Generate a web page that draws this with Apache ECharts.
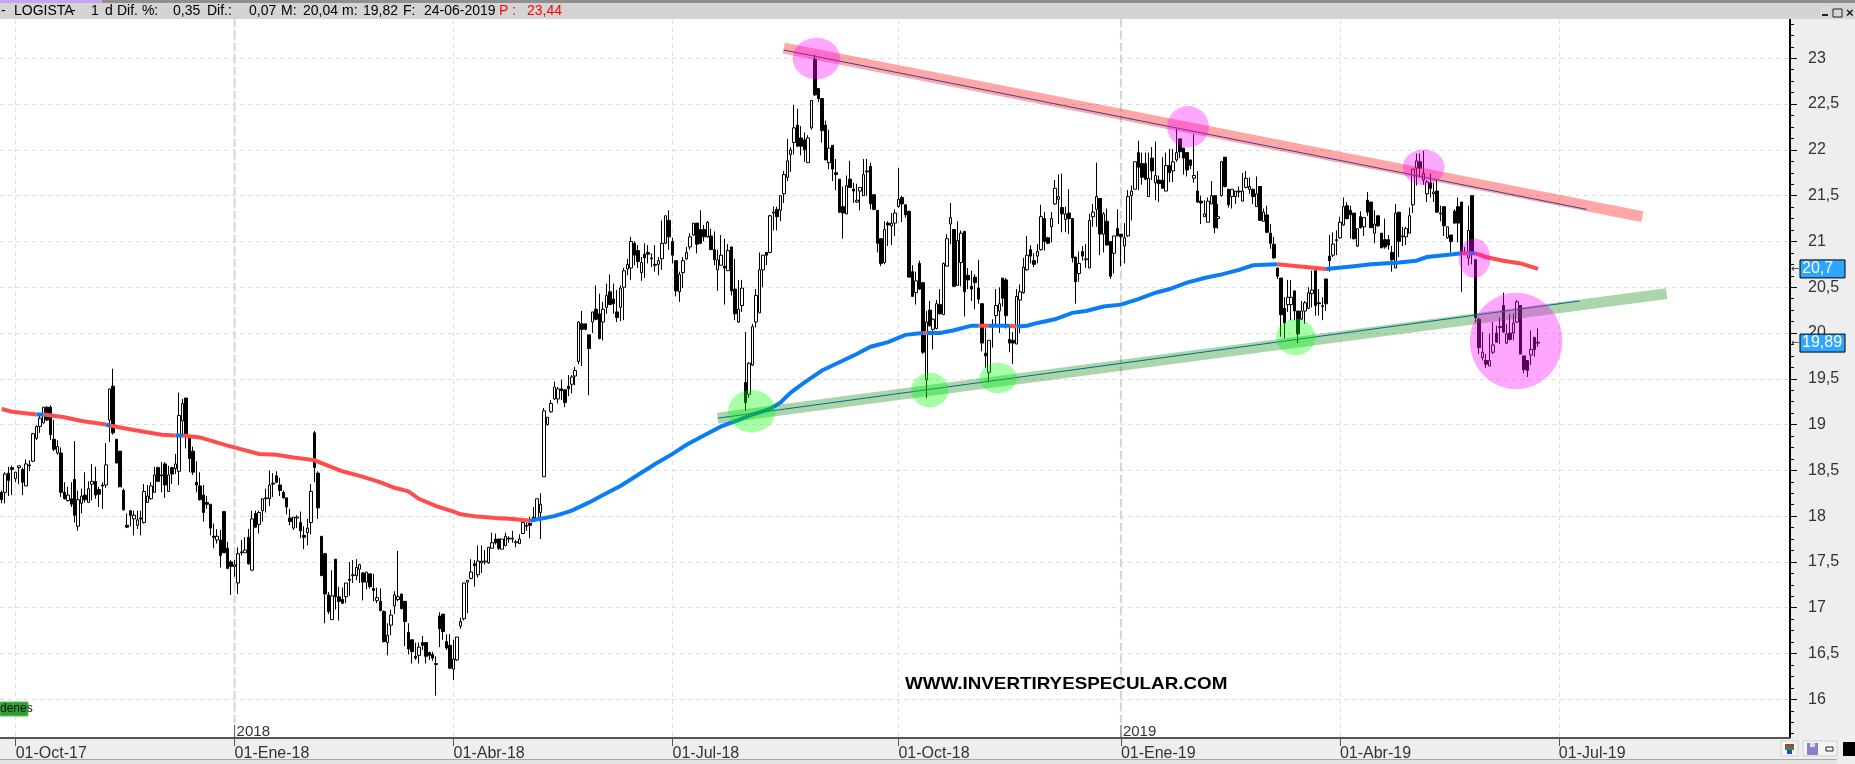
<!DOCTYPE html>
<html><head><meta charset="utf-8"><style>html,body{margin:0;padding:0;background:#fff}#c{width:1855px;height:764px}</style>
<script src="https://cdn.jsdelivr.net/npm/echarts@6/dist/echarts.min.js"></script></head><body><div id="c"></div>
<script>
// rows are [open, close, low, high]
const candlesOct17=[[18.26,18.18,18.14,18.28],[18.26,18.46,18.14,18.48],[18.47,18.39,18.22,18.54],[18.53,18.51,18.23,18.55],[18.41,18.48,18.37,18.48],[18.53,18.55,18.35,18.55],[18.51,18.37,18.23,18.53],[18.33,18.57,18.33,18.62],[18.56,18.55,18.49,18.61],[18.60,18.90,18.59,18.91],[18.85,18.98,18.83,18.99],[18.98,19.07,18.91,19.12],[19.02,19.19,19.01,19.19],[19.19,19.05,19.04,19.20],[19.19,18.89,18.83,19.21],[18.84,18.73,18.71,19.05],[18.69,18.76,18.67,18.83],[18.69,18.26,18.21,18.75],[18.26,18.19,18.18,18.37],[18.17,18.23,18.16,18.32],[18.19,18.13,18.10,18.37],[18.40,18.01,17.93,18.82],[17.89,18.18,17.84,18.28],[18.14,18.22,18.03,18.30],[18.23,18.18,18.15,18.48],[18.15,18.30,18.15,18.38],[18.35,18.38,18.17,18.57],[18.38,18.23,18.19,18.54],[18.29,18.24,18.10,18.32],[18.34,18.33,18.08,18.37],[18.34,18.56,18.31,18.80],[19.05,19.39,18.81,19.39],[19.42,18.91,18.89,19.61],[18.84,18.58,18.58,18.84],[18.71,18.32,18.32,18.71],[18.28,18.07,18.06,18.30],[17.90,17.88,17.87,18.03],[18.06,18.01,17.89,18.06],[17.97,18.01,17.79,18.06],[17.90,17.96,17.86,18.06],[17.98,17.97,17.79,18.06],[17.93,18.27,17.92,18.35],[18.15,18.22,18.15,18.34],[18.19,18.33,18.18,18.37],[18.26,18.45,18.26,18.54],[18.53,18.38,18.38,18.54],[18.45,18.44,18.26,18.59],[18.57,18.34,18.20,18.59],[18.27,18.45,18.27,18.55],[18.53,18.46,18.35,18.54],[18.52,18.57,18.46,18.68],[18.49,19.10,18.34,19.35],[19.04,19.23,18.88,19.28],[19.29,18.89,18.74,19.29],[18.88,18.63,18.48,18.88],[18.71,18.48,18.45,18.76],[18.37,18.34,18.26,18.60],[18.33,18.18,18.17,18.48],[18.23,18.04,17.94,18.34],[18.15,18.13,18.08,18.22],[18.13,17.87,17.79,18.13],[17.78,17.77,17.65,17.92],[17.74,17.78,17.70,17.86],[17.74,17.57,17.44,17.85],[18.05,17.60,17.60,18.05],[17.65,17.43,17.42,17.72],[17.50,17.45,17.14,17.52],[17.45,17.47,17.34,17.52],[17.27,17.59,17.15,17.66],[17.61,17.60,17.57,17.74],[17.60,17.63,17.60,17.77],[17.77,17.48,17.47,17.86],[17.41,17.97,17.40,18.06],[18.03,17.88,17.87,18.06],[17.91,18.04,17.81,18.06]];
const candlesJan18=[[18.06,18.19,17.94,18.19],[18.19,18.20,18.04,18.30],[18.19,18.34,18.11,18.50],[18.36,18.35,18.21,18.47],[18.44,18.37,18.36,18.49],[18.34,18.28,18.22,18.42],[18.26,18.20,18.19,18.28],[18.20,18.10,18.02,18.20],[17.98,17.94,17.90,18.08],[17.87,17.99,17.85,17.99],[17.98,17.99,17.87,18.01],[17.93,17.84,17.76,18.05],[17.79,17.77,17.64,17.89],[17.82,17.87,17.68,17.97],[17.93,18.27,17.80,18.35],[18.91,18.53,18.37,18.93],[18.47,18.09,17.97,18.49],[17.78,17.35,17.35,17.78],[17.59,17.15,16.83,17.60],[17.14,16.96,16.93,17.17],[16.87,17.13,16.87,17.41],[17.53,17.12,16.98,17.53],[17.12,17.07,16.86,17.23],[17.09,17.05,17.04,17.22],[17.12,17.27,17.05,17.27],[17.31,17.30,17.13,17.50],[17.35,17.36,17.27,17.52],[17.35,17.44,17.30,17.53],[17.42,17.47,17.27,17.48],[17.38,17.28,17.08,17.39],[17.28,17.39,17.20,17.39],[17.37,17.23,17.21,17.37],[17.21,17.19,17.07,17.37],[17.08,17.11,17.05,17.22],[17.07,16.97,16.96,17.21],[16.96,16.63,16.62,16.97],[16.62,16.70,16.48,16.83],[16.81,16.92,16.70,16.98],[17.02,17.14,16.93,17.18],[17.09,17.12,17.07,17.62],[17.15,16.99,16.98,17.15],[17.07,16.85,16.58,17.07],[16.73,16.55,16.49,16.83],[16.65,16.52,16.39,16.65],[16.47,16.45,16.43,16.62],[16.48,16.57,16.39,16.62],[16.62,16.59,16.54,16.69],[16.62,16.47,16.39,16.62],[16.51,16.48,16.43,16.52],[16.49,16.45,16.42,16.52],[16.38,16.39,16.04,16.47],[16.91,16.77,16.57,16.95],[16.93,16.74,16.65,16.93],[16.63,16.56,16.54,16.71],[16.59,16.34,16.33,16.71],[16.33,16.44,16.21,16.65],[16.43,16.68,16.42,16.68],[16.80,16.85,16.77,16.89],[16.88,17.27,16.86,17.27],[17.28,17.30,16.94,17.30],[17.32,17.39,17.31,17.53],[17.48,17.46,17.23,17.52],[17.36,17.51,17.33,17.68],[17.49,17.51,17.38,17.68],[17.50,17.51,17.47,17.63],[17.49,17.66,17.48,17.66],[17.65,17.71,17.65,17.82],[17.75,17.71,17.69,17.81],[17.75,17.65,17.63,17.75],[17.64,17.75,17.64,17.75],[17.68,17.78,17.67,17.82],[17.75,17.76,17.71,17.78],[17.75,17.76,17.71,17.84],[17.71,17.72,17.66,17.74],[17.70,17.75,17.70,17.80],[17.81,17.93,17.81,17.97],[17.89,17.90,17.84,17.93]];
const candlesApr18=[[17.92,17.90,17.76,17.99],[17.99,17.96,17.96,18.10],[17.97,18.19,17.96,18.19],[18.04,18.13,17.75,18.25],[18.43,19.15,18.43,19.18],[19.00,19.08,18.99,19.08],[19.14,19.23,19.13,19.27],[19.28,19.41,19.27,19.47],[19.28,19.39,19.23,19.41],[19.39,19.37,19.27,19.49],[19.38,19.24,19.19,19.38],[19.42,19.39,19.31,19.54],[19.44,19.52,19.34,19.54],[19.53,19.59,19.43,19.63],[19.69,20.12,19.66,20.13],[20.10,20.04,19.64,20.24],[20.10,20.04,20.03,20.10],[19.98,19.83,19.32,19.98],[20.12,20.23,20.00,20.23],[20.26,20.15,20.14,20.52],[20.21,19.94,19.93,20.43],[20.12,20.26,19.92,20.34],[20.28,20.41,20.21,20.54],[20.45,20.31,20.31,20.64],[20.37,20.32,20.21,20.54],[20.23,20.17,20.12,20.47],[20.28,20.49,20.13,20.52],[20.50,20.68,20.14,20.71],[20.70,20.75,20.63,20.81],[20.71,21.00,20.58,21.05],[20.98,20.85,20.74,21.00],[20.90,20.78,20.71,20.96],[20.66,20.77,20.57,20.83],[20.86,20.82,20.60,20.98],[20.88,20.86,20.76,20.96],[20.81,20.82,20.72,20.87],[20.75,20.74,20.67,20.96],[20.75,20.79,20.63,20.83],[20.81,20.98,20.69,21.23],[20.98,21.28,20.97,21.28],[21.23,21.05,20.91,21.34],[21.00,20.85,20.76,21.04],[20.79,20.46,20.40,20.79],[20.45,20.64,20.34,20.67],[20.66,20.79,20.49,20.83],[20.81,20.88,20.80,20.94],[20.94,21.05,20.91,21.09],[21.07,21.20,21.06,21.20],[21.20,20.97,20.87,21.20],[21.13,20.98,20.97,21.34],[21.13,21.05,21.00,21.18],[21.05,21.21,21.04,21.22],[21.06,20.91,20.91,21.14],[20.91,20.80,20.74,21.11],[20.69,20.80,20.46,20.91],[20.74,20.85,20.74,21.07],[20.73,20.71,20.31,21.03],[20.68,20.90,20.68,20.97],[20.94,20.46,20.41,20.94],[20.48,20.21,20.14,20.81],[20.12,20.26,20.11,20.58],[20.30,20.49,20.23,20.58],[19.46,19.24,19.15,20.01],[19.33,19.67,19.29,19.68],[19.65,20.07,19.64,20.10],[20.12,20.41,20.06,20.48],[20.22,20.69,20.22,20.88],[20.69,20.85,20.50,20.85],[20.88,20.85,20.74,20.88],[20.88,21.28,20.87,21.29],[21.31,21.32,21.12,21.38],[21.35,21.27,21.12,21.38]];
const candlesAug18=[[21.34,21.50,21.22,21.50],[21.52,21.73,21.42,21.77],[21.70,21.88,21.66,22.12],[21.95,22.00,21.76,22.03],[22.08,22.24,21.95,22.49],[22.27,22.04,22.03,22.45],[22.13,22.04,21.94,22.26],[22.11,22.00,21.87,22.19],[21.86,22.13,21.86,22.16],[22.24,22.54,22.22,22.54],[22.99,22.60,22.59,23.04],[22.67,22.56,22.52,22.67],[22.56,22.21,22.08,22.56],[22.27,21.89,21.89,22.32],[21.86,22.02,21.79,22.22],[22.05,21.79,21.66,22.05],[21.75,21.73,21.56,21.90],[21.68,21.32,21.31,21.68],[21.38,21.31,21.03,21.60],[21.30,21.61,21.30,21.72],[21.68,21.59,21.59,21.88],[21.57,21.55,21.42,21.64],[21.43,21.45,21.42,21.63],[21.55,21.59,21.34,21.59],[21.50,21.73,21.50,21.90],[21.77,21.76,21.50,21.90],[21.82,21.41,21.35,21.86],[21.51,21.35,21.34,21.51],[21.34,20.98,20.88,21.34],[21.03,20.76,20.73,21.03],[20.77,21.13,20.75,21.22],[21.20,21.18,20.95,21.22],[21.17,21.20,20.96,21.31],[21.20,21.31,21.06,21.35],[21.38,21.46,21.37,21.80],[21.48,21.41,21.21,21.50],[21.40,21.29,21.26,21.40],[21.33,20.61,20.61,21.33],[20.67,20.40,20.40,20.74],[20.44,20.57,20.31,20.67],[20.76,20.48,20.47,20.79],[20.55,19.79,19.77,20.55],[19.49,20.12,19.29,20.24],[20.25,20.08,20.07,20.35],[20.04,20.15,19.82,20.16],[20.05,20.32,20.04,20.36],[20.31,20.21,20.20,20.48],[20.20,20.76,20.20,20.77],[20.73,21.03,20.73,21.08],[21.19,21.26,20.97,21.42],[21.13,20.51,20.51,21.13],[20.52,21.01,20.52,21.22],[20.77,21.09,20.51,21.12],[21.11,20.45,20.18,21.11],[20.63,20.58,20.48,20.71],[20.51,20.48,20.35,20.68],[20.61,20.55,20.26,20.64],[20.49,20.37,20.32,20.80],[20.32,19.89,19.80,20.32],[19.78,19.75,19.62,20.05],[19.57,19.92,19.46,19.92],[20.08,20.07,19.84,20.15],[20.19,20.30,20.08,20.48],[20.24,20.32,20.00,20.50],[20.60,20.38,20.29,20.60],[20.58,20.19,20.05,20.60],[19.93,19.89,19.79,20.08],[19.92,19.89,19.66,20.01],[19.88,20.40,19.88,20.48],[20.36,20.45,20.00,20.53],[20.44,20.72,20.43,20.82],[20.69,20.85,20.68,21.06]];
const candlesDec18=[[20.91,20.84,20.76,20.96],[20.79,20.75,20.72,20.87],[20.84,20.89,20.76,20.97],[20.91,21.27,20.90,21.40],[21.25,21.00,20.90,21.32],[21.04,20.98,20.97,21.05],[21.16,21.25,20.99,21.32],[21.41,21.58,21.40,21.67],[21.46,21.49,21.19,21.73],[21.37,21.30,21.10,21.74],[21.24,21.30,21.10,21.38],[21.31,21.25,21.08,21.57],[21.25,20.82,20.77,21.25],[20.83,20.56,20.32,20.83],[20.65,20.76,20.56,20.89],[20.89,20.84,20.79,20.95],[20.80,20.81,20.71,20.97],[20.71,21.23,20.71,21.30],[21.27,21.32,21.16,21.41],[21.35,21.49,21.16,21.86],[21.47,21.08,20.85,21.47],[21.08,21.30,20.88,21.32],[21.22,20.96,20.96,21.36],[21.00,20.62,20.59,21.00],[20.87,21.06,20.65,21.06],[21.14,21.06,21.06,21.35],[21.08,21.05,20.73,21.08],[20.95,21.04,20.76,21.20],[21.06,21.49,21.05,21.56],[21.50,21.55,21.23,21.61],[21.57,21.87,21.57,21.87],[21.97,21.81,21.56,22.10],[21.85,21.70,21.62,21.97],[21.85,21.68,21.67,21.97],[21.49,21.69,21.49,21.97],[21.91,21.77,21.67,22.03],[21.64,21.72,21.45,22.09],[21.67,21.63,21.43,21.72],[21.67,21.58,21.58,21.92],[21.55,21.83,21.55,21.97],[21.83,21.75,21.65,22.01],[21.77,21.87,21.65,22.01],[21.89,21.97,21.87,22.23],[22.12,21.98,21.91,22.12],[22.02,21.91,21.73,22.02],[21.97,21.78,21.71,21.97],[21.89,21.83,21.79,21.89],[21.69,21.72,21.64,22.17],[21.55,21.43,21.42,21.77],[21.44,21.42,21.19,21.50],[21.27,21.30,21.27,21.45],[21.21,21.44,21.21,21.48],[21.41,21.50,21.41,21.66],[21.50,21.15,21.09,21.50],[21.25,21.27,21.14,21.41],[21.50,21.87,21.49,21.88],[21.92,21.60,21.59,21.92],[21.57,21.40,21.37,21.57],[21.49,21.57,21.36,21.57],[21.49,21.55,21.41,21.55],[21.55,21.54,21.48,21.60],[21.44,21.55,21.44,21.75],[21.59,21.69,21.58,21.77],[21.57,21.60,21.52,21.70],[21.57,21.49,21.41,21.57],[21.38,21.52,21.38,21.71],[21.60,21.23,21.23,21.60],[21.22,21.32,21.22,21.36],[21.29,21.10,21.09,21.39],[21.09,20.98,20.92,21.19],[20.97,20.82,20.81,21.05],[20.71,20.62,20.59,20.71]];
const candlesMar19=[[20.60,20.20,19.96,20.60],[20.27,20.11,19.94,20.39],[20.31,20.39,20.23,20.58],[20.31,20.39,20.14,20.58],[20.46,20.24,20.14,20.46],[20.24,19.99,19.89,20.24],[20.15,20.24,20.14,20.35],[20.24,20.33,20.10,20.35],[20.27,20.44,20.26,20.50],[20.43,20.47,20.28,20.68],[20.68,20.30,20.19,20.68],[20.33,20.32,20.19,20.48],[20.29,20.30,20.14,20.39],[20.59,20.32,20.24,20.59],[20.84,20.79,20.67,21.07],[20.85,20.97,20.83,21.10],[21.01,21.02,20.85,21.12],[21.04,21.21,21.03,21.27],[21.18,21.38,21.17,21.48],[21.39,21.25,21.24,21.43],[21.34,21.29,21.03,21.39],[21.31,21.03,21.02,21.31],[20.95,21.14,20.94,21.14],[21.27,21.15,21.14,21.33],[21.16,21.26,21.06,21.26],[21.45,21.32,21.28,21.54],[21.43,21.15,21.15,21.43],[21.09,21.19,20.98,21.34],[21.28,21.17,21.16,21.28],[21.09,20.93,20.93,21.09],[21.02,20.94,20.92,21.25],[21.02,20.96,20.91,21.07],[20.88,20.80,20.67,20.95],[20.71,21.31,20.71,21.41],[21.32,21.00,20.83,21.32],[21.05,21.06,20.95,21.16],[21.05,21.14,20.96,21.16],[21.09,21.28,21.09,21.37],[21.40,21.79,21.31,21.79],[21.80,21.88,21.61,21.96],[21.87,21.80,21.70,21.96],[21.67,21.74,21.62,21.99],[21.52,21.65,21.43,21.67],[21.64,21.58,21.48,21.74],[21.52,21.54,21.43,21.64],[21.55,21.32,21.31,21.67],[21.30,21.31,21.22,21.39],[21.38,21.17,21.06,21.38],[21.04,21.16,21.03,21.16],[21.07,21.00,20.88,21.07],[21.33,21.20,21.19,21.35],[21.38,21.20,20.99,21.48],[21.43,20.88,20.45,21.43],[20.88,20.86,20.85,20.94],[20.82,21.12,20.74,21.39],[21.50,20.87,20.75,21.50],[20.80,20.17,20.12,20.80],[20.15,19.84,19.77,20.17],[19.73,19.79,19.70,20.01],[19.70,19.66,19.62,19.77],[19.64,19.70,19.64,19.99],[19.79,19.87,19.77,20.12],[20.00,19.90,19.89,20.08],[20.06,20.07,19.88,20.17],[20.30,20.01,20.00,20.44],[19.89,19.99,19.88,20.10],[20.00,19.93,19.92,20.21],[20.00,20.11,19.92,20.21],[20.12,20.34,20.11,20.36],[20.30,19.77,19.77,20.30],[19.75,19.60,19.56,19.75],[19.70,19.59,19.52,19.70],[19.76,19.82,19.65,20.03],[19.95,19.82,19.74,19.96],[19.90,19.89,19.85,20.05]];

const SLOTS = 515;
const tickIndex  = [4,67,130,193,258,322,385,448];
const tickLabels = ['01-Oct-17','01-Ene-18','01-Abr-18','01-Jul-18','01-Oct-18','01-Ene-19','01-Abr-19','01-Jul-19'];
const yearIndex  = [67,322];
const yearLabels = ['2018','2019'];

// moving average: [slot, value]; null ends a coloured stretch
const maRed=[[0,19.17],[3,19.14],[10,19.11],[11,null],[12,19.11],[18,19.08],[23,19.04],[30,19.0],[30,null],[31,18.99],[38,18.94],[46,18.89],[50,18.88],[51,null],[52,18.88],[57,18.86],[65,18.77],[74,18.68],[79,18.67],[84,18.64],[90,18.61],[94,18.55],[98,18.49],[103,18.44],[109,18.37],[113,18.31],[117,18.27],[120,18.19],[125,18.11],[130,18.05],[132,18.02],[136,18.00],[142,17.98],[147,17.97],[152,17.95],[153,null],[265,20.0],[266,20.0],[267,null],[281,20.08],[284,20.08],[285,null],[290,20.08],[292,20.07],[293,null],[367,20.75],[370,20.74],[375,20.72],[381,20.70],[382,null],[420,20.87],[422,20.87],[423,null],[424,20.87],[427,20.83],[432,20.79],[437,20.76],[442,20.70]];
const maBlue=[[10,19.11],[12,19.11],[13,null],[30,19.0],[31,18.99],[32,null],[50,18.88],[52,18.88],[53,null],[152,17.95],[159,18.0],[164,18.06],[169,18.15],[173,18.23],[178,18.33],[183,18.45],[188,18.57],[193,18.68],[197,18.78],[202,18.88],[207,18.98],[212,19.05],[216,19.11],[221,19.17],[224,19.24],[227,19.35],[231,19.46],[236,19.59],[241,19.68],[246,19.77],[250,19.85],[255,19.90],[260,19.98],[265,20.00],[265,null],[266,20.00],[270,20.00],[274,20.03],[279,20.08],[281,20.08],[282,null],[284,20.08],[288,20.08],[290,20.08],[291,null],[292,20.07],[295,20.08],[298,20.11],[303,20.15],[308,20.22],[312,20.24],[317,20.29],[322,20.31],[327,20.37],[332,20.44],[336,20.48],[341,20.55],[346,20.60],[351,20.64],[356,20.69],[360,20.74],[367,20.75],[368,null],[381,20.70],[389,20.73],[394,20.75],[402,20.77],[407,20.79],[410,20.83],[415,20.85],[420,20.87],[421,null],[422,20.87],[424,20.87]];

const resistBand=[[225,23.11],[472,21.27]];
const resistLine=[[225,23.09],[456,21.35]];
const supportBand=[[206,19.07],[479,20.43]];
const supportLine=[[206,19.07],[454,20.35]];

// [slot, price, half-width in slots, half-height in price]
const pinkEllipses=[[234.4,22.998,6.81,.227],[341.3,22.253,5.98,.226],[409.1,21.81,5.98,.194],[423.7,20.816,4.54,.215],[435.7,19.913,13.31,.527]];
const greenEllipses=[[215.8,19.146,6.81,.232],[267.0,19.378,5.41,.189],[286.7,19.509,5.38,.167],[372.3,19.957,5.61,.2]];

const priceTags=[20.7,19.89];
const header=[['-',1,'#000'],['LOGISTA',14,'#000'],['-',71,'#000'],['1',91,'#000'],['d',105,'#000'],['Dif. %:',117,'#000'],['0,35',173,'#000'],['Dif.:',207,'#000'],['0,07',249,'#000'],['M:',281,'#000'],['20,04',303,'#000'],['m:',342,'#000'],['19,82',363,'#000'],['F:',403,'#000'],['24-06-2019',424,'#000'],['P :',499,'#f00'],['23,44',527,'#f00']];

const FONT='"Liberation Sans",Arial,sans-serif';
const candles=[].concat(candlesOct17,candlesJan18,candlesApr18,candlesAug18,candlesDec18,candlesMar19);
const categories=Array.from({length:SLOTS},(_,i)=>{const k=tickIndex.indexOf(i);return k>=0?tickLabels[k]:'s'+i;});
const isTick=i=>tickIndex.indexOf(i)>=0;

const chart=echarts.init(document.getElementById('c'),null,{renderer:'canvas'});

function ellipseSeries(list,color){return{type:'custom',coordinateSystem:'cartesian2d',z:6,silent:true,clip:false,
  data:list.map(e=>[Math.floor(e[0]),e[1]]),encode:{x:0,y:1},
  renderItem(p,api){const e=list[p.dataIndex];const b=api.size([1,0])[0],u=api.size([0,1])[1];
    const c=api.coord([Math.floor(e[0]),e[1]]);
    return{type:'ellipse',shape:{cx:c[0]+(e[0]-Math.floor(e[0]))*b,cy:c[1],rx:e[2]*b,ry:e[3]*u},style:{fill:color,stroke:null}};}};}
function lineSeries(data,color,w,z){return{type:'line',data,symbol:'none',silent:true,z,clip:false,connectNulls:false,
  lineStyle:{color,width:w,cap:'butt',join:'miter'},animation:false};}

const rect=(x,y,w,h,fill,z,stroke)=>({type:'rect',shape:{x,y,width:w,height:h},style:{fill,stroke:stroke||null,lineWidth:stroke?1:0},z,silent:true});
const txt=(t,x,y,fill,font,z,sx)=>({type:'text',x,y,scaleX:sx||1,style:{text:t,fill,font,textVerticalAlign:'middle',textBaseline:'middle'},z,silent:true});

const graphics=[
  rect(1790,0,65,764,'#eeeeee',-1),
  rect(0,3,1855,16,'#d4d4d4',1),
  rect(0,0,1855,3,'#8f8f8f',1),
  rect(0,0,102,3,'#c9a3f2',1),
  rect(0,738,1855,26,'#eeeeee',1),
  rect(0,759,1837,1,'#a8a8a8',1),
  rect(0,760,1837,4,'#e2e2e2',1),
  rect(1820,7,10,11,'#d8d8d8',4),rect(1822,14,6,2,'#222',4),
  rect(1833,9,9,8,'#d8d8d8',4,'#222'),
  txt('×',1846,13,'#111','bold 13px '+FONT,4),
  rect(0,702,28,14,'#2ca02c',4,'#66bb66'),
  txt('denes',0,709,'#111','12px '+FONT,4),
  rect(1781,741,17,15,'#f4f4f4',4,'#d0d0d0'),rect(1785,744,9,3,'#b04040',4),rect(1785,747,9,3,'#3a8a3a',4),rect(1787,750,5,4,'#1a4ae0',4),
  rect(1803,741,34,15,'#f4f4f4',4,'#d0d0d0'),rect(1807,743,11,12,'#8a7fc8',4),rect(1810,743,5,4,'#ddd',4),rect(1826,747,7,4,'#f4f4f4',4,'#222'),
  rect(1843,742,12,14,'#000',4),
  txt('WWW.INVERTIRYESPECULAR.COM',905,684,'#000','bold 17px '+FONT,8,1.107)
].concat(header.map(h=>txt(h[0],h[1],11.5,h[2],'14px '+FONT,4)));

chart.setOption({
  animation:false,backgroundColor:'#fff',tooltip:{show:false},legend:{show:false},
  grid:{left:-1,right:65,top:12.5,bottom:18.9,containLabel:false},
  xAxis:[
    {type:'category',data:categories,z:0,axisLine:{show:false},axisTick:{show:false},axisLabel:{show:false},
     splitLine:{show:true,alignWithLabel:true,interval:(i)=>isTick(i),lineStyle:{color:'#dedede',type:[4,4],width:1}}},
    {type:'category',data:categories,z:3,position:'bottom',offset:-7,
     axisLine:{show:true,onZero:false,lineStyle:{color:'#555',width:2}},
     axisTick:{show:true,alignWithLabel:true,interval:(i)=>isTick(i),length:8,lineStyle:{color:'#555'}},
     axisLabel:{show:true,interval:(i)=>isTick(i),formatter:(v)=>v,align:'left',margin:7,color:'#333',fontFamily:FONT,fontSize:16,hideOverlap:false},
     splitLine:{show:false}}
  ],
  yAxis:{type:'value',position:'right',min:15.5,max:23.5,interval:.5,scale:true,z:0,
    axisLine:{show:true,onZero:false,lineStyle:{color:'#000',width:2}},
    axisTick:{show:true,length:7,lineStyle:{color:'#000'}},
    minorTick:{show:true,splitNumber:4,length:4,lineStyle:{color:'#000'}},
    axisLabel:{show:true,margin:18,color:'#333',fontFamily:FONT,fontSize:16,formatter:(v)=>String(v).replace('.',',')},
    splitLine:{show:true,lineStyle:{color:'#dedede',type:[4,4],width:1}}},
  series:[
    {type:'custom',name:'years',coordinateSystem:'cartesian2d',z:1,silent:true,clip:false,
     data:yearIndex.map(i=>[i,15.7]),encode:{x:0,y:1},
     renderItem(p,api){const i=yearIndex[p.dataIndex];const top=api.coord([i,23.43]),bot=api.coord([i,15.58]),mid=api.coord([i,15.72]);
       return{type:'group',children:[
         {type:'line',shape:{x1:top[0],y1:top[1],x2:bot[0],y2:mid[1]},style:{stroke:'#d4d4d4',lineWidth:2,lineDash:[8,4]}},
         {type:'line',shape:{x1:mid[0],y1:mid[1],x2:bot[0],y2:bot[1]},style:{stroke:'#555',lineWidth:1}},
         {type:'text',style:{x:mid[0]+2,y:mid[1]-1,text:yearLabels[p.dataIndex],fill:'#333',font:'15px '+FONT,textVerticalAlign:'top'}}
       ]};}},
    {type:'candlestick',name:'LOGISTA',data:candles,barWidth:3,z:2,silent:true,
     itemStyle:{color:'#fff',color0:'#000',borderColor:'#000',borderColor0:'#000',borderColorDoji:'#000',borderWidth:1}},
    lineSeries(maRed,'#ff4d4d',4,3),
    lineSeries(maBlue,'#0a7df5',4,3),
    lineSeries(resistBand,'rgba(255,0,0,.35)',11,4),
    lineSeries(supportBand,'rgba(0,128,0,.33)',11,4),
    lineSeries(resistLine,'#34449c',1,5),
    lineSeries(supportLine,'#006e8c',1,5),
    ellipseSeries(pinkEllipses,'rgba(255,0,255,.35)'),
    ellipseSeries(greenEllipses,'rgba(0,255,0,.35)'),
    {type:'custom',name:'tags',coordinateSystem:'cartesian2d',z:7,silent:true,clip:false,
     data:priceTags.map(v=>[442,v]),encode:{x:0,y:1},
     renderItem(p,api){const v=priceTags[p.dataIndex];const y=api.coord([442,v])[1];const s=p.coordSys;const ax=s.x+s.width;
       return{type:'group',children:[
         {type:'rect',shape:{x:ax+10,y:y-9,width:45,height:18},style:{fill:'#2ea6ff',stroke:'#000',lineWidth:1}},
         {type:'text',style:{x:ax+12,y:y,text:String(v).replace('.',','),fill:'#fff',font:'16px '+FONT,textVerticalAlign:'middle'}},
         {type:'text',style:{x:ax+1,y:y,text:'←',fill:'#333',font:'10px "DejaVu Sans"',textVerticalAlign:'middle'}}
       ]};}}
  ],
  graphic:{elements:graphics}
});
</script></body></html>
